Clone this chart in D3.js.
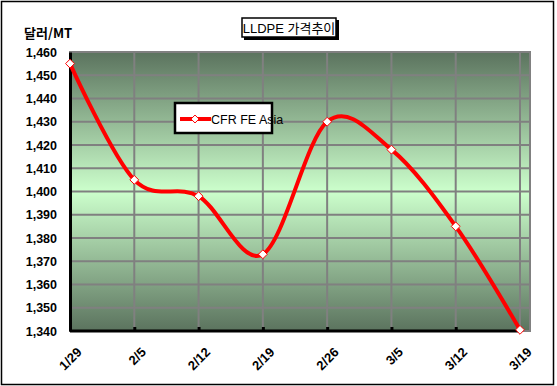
<!DOCTYPE html>
<html>
<head>
<meta charset="utf-8">
<script src="https://cdn.jsdelivr.net/npm/d3@7/dist/d3.min.js"></script>
<style>
body { margin: 0; background: #fff; }
svg { display: block; font-family: Arial, "Liberation Sans", sans-serif; }
</style>
</head>
<body>
<svg id="chart" width="557" height="386"></svg>
<script>
var dates = ["1/29", "2/5", "2/12", "2/19", "2/26", "3/5", "3/12", "3/19"];
var prices = [1455, 1405, 1398, 1373, 1430, 1418, 1385, 1340.5];
var yTicks = [1340, 1350, 1360, 1370, 1380, 1390, 1400, 1410, 1420, 1430, 1440, 1450, 1460];
var seriesName = "CFR FE Asia";

var svg = d3.select("#chart");
var plotL = 70, plotR = 530, plotT = 52, plotB = 331;

var scX = d3.scalePoint().domain(dates).range([plotL, 520]);
var scY = d3.scaleLinear().domain([1340, 1460]).range([plotB, plotT]);

// outer border
svg.append("rect").attr("x", 1.5).attr("y", 1.5).attr("width", 552).attr("height", 383)
    .attr("fill", "#fff").attr("stroke", "#000").attr("stroke-width", 1.5);

// background gradient
var grad = svg.append("defs").append("linearGradient")
    .attr("id", "bg").attr("x1", 0).attr("y1", 0).attr("x2", 0).attr("y2", 1);
grad.append("stop").attr("offset", "0%").attr("stop-color", "#5b735e");
grad.append("stop").attr("offset", "50%").attr("stop-color", "#ccffcc");
grad.append("stop").attr("offset", "100%").attr("stop-color", "#5b735e");

svg.append("rect").attr("x", plotL).attr("y", plotT)
    .attr("width", plotR - plotL).attr("height", plotB - plotT)
    .attr("fill", "url(#bg)").attr("stroke", "#808080").attr("stroke-width", 2);

// grid
svg.append("g").selectAll("line").data(yTicks.slice(1)).enter().append("line")
    .attr("x1", plotL).attr("x2", plotR)
    .attr("y1", d => scY(d)).attr("y2", d => scY(d))
    .attr("stroke", "#808080").attr("stroke-width", 2);
svg.append("g").selectAll("line").data(dates.slice(1)).enter().append("line")
    .attr("x1", d => scX(d)).attr("x2", d => scX(d))
    .attr("y1", plotT).attr("y2", plotB)
    .attr("stroke", "#808080").attr("stroke-width", 2);

// axes
var yAxis = svg.append("g").attr("transform", "translate(" + plotL + ",0)")
    .call(d3.axisLeft(scY).tickValues(yTicks).tickFormat(d3.format(",")).tickSize(0).tickPadding(13));
yAxis.select(".domain").attr("stroke", "#000").attr("stroke-width", 3);
yAxis.selectAll("text").attr("font-size", 12.5).attr("font-weight", "bold").attr("fill", "#000")
    .attr("font-family", "Arial, 'Liberation Sans', sans-serif");

var xAxis = svg.append("g").attr("transform", "translate(0," + plotB + ")")
    .call(d3.axisBottom(scX).tickSize(4).tickSizeOuter(0));
xAxis.select(".domain").attr("stroke", "#000").attr("stroke-width", 3)
    .attr("d", "M" + plotL + ",0H520");
xAxis.selectAll(".tick line").attr("stroke", "#000").attr("stroke-width", 3).attr("y1", -4).attr("y2", 0);
xAxis.selectAll("text")
    .attr("font-size", 13).attr("font-weight", "bold").attr("fill", "#000")
    .attr("font-family", "Arial, 'Liberation Sans', sans-serif")
    .attr("text-anchor", "end").attr("dy", null).attr("y", 0)
    .attr("transform", "translate(12,22) rotate(-45)");

// y unit
svg.append("text").attr("x", 24).attr("y", 38).attr("font-size", 13).attr("font-weight", "bold")
    .attr("font-family", "'Noto Sans CJK KR', Arial, sans-serif").text("달러/MT");

// title
svg.append("rect").attr("x", 244).attr("y", 20).attr("width", 95).attr("height", 20).attr("fill", "#000");
svg.append("rect").attr("x", 242).attr("y", 18).attr("width", 94).attr("height", 19)
    .attr("fill", "#fff").attr("stroke", "#000").attr("stroke-width", 1.5);
svg.append("text").attr("x", 289).attr("y", 32.5).attr("text-anchor", "middle")
    .attr("font-size", 13).attr("font-family", "Arial, 'Noto Sans CJK KR', sans-serif")
    .text("LLDPE 가격추이");

// line
var line = d3.line().x((d, i) => scX(dates[i])).y(d => scY(d)).curve(d3.curveCardinal.tension(0));
svg.append("path").attr("d", line(prices)).attr("fill", "none")
    .attr("stroke", "#ff0000").attr("stroke-width", 4);

var diamond = d3.symbol().type(d3.symbolDiamond2).size(50);
svg.append("g").selectAll("path").data(prices).enter().append("path")
    .attr("d", diamond)
    .attr("transform", (d, i) => "translate(" + scX(dates[i]) + "," + scY(d) + ")")
    .attr("fill", "#fff").attr("stroke", "#ff0000").attr("stroke-width", 1);

// legend
var lg = svg.append("g").attr("transform", "translate(175,103)");
lg.append("rect").attr("width", 97).attr("height", 30).attr("fill", "#fff")
    .attr("stroke", "#000").attr("stroke-width", 2.5);
lg.append("line").attr("x1", 5).attr("x2", 36).attr("y1", 16).attr("y2", 16)
    .attr("stroke", "#ff0000").attr("stroke-width", 4);
lg.append("path").attr("d", d3.symbol().type(d3.symbolDiamond2).size(40))
    .attr("transform", "translate(20,16)").attr("fill", "#fff").attr("stroke", "#ff0000");
lg.append("text").attr("x", 36).attr("y", 20.5).attr("font-size", 12.5)
    .attr("font-family", "Arial, 'Liberation Sans', sans-serif").text(seriesName);
</script>
</body>
</html>
